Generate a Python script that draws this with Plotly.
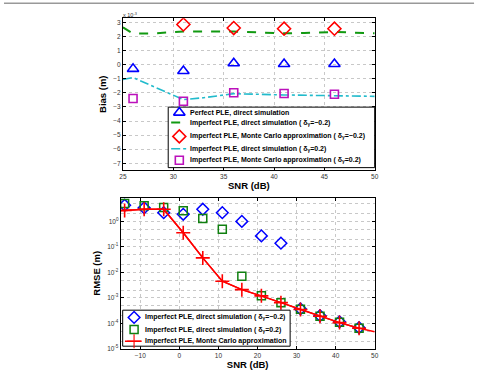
import plotly.graph_objects as go

# ---------------- Top panel data (Bias, units of 1e-3 m) ----------------
snr_top_pts = [26, 31, 36, 41, 46]
bias_perfect = [-0.3, -0.45, 0.1, 0.05, 0.05]
snr_top_mc = [31, 36, 41, 46]
bias_mc_neg = [2.85, 2.6, 2.55, 2.55]
bias_mc_pos = [-2.4, -2.6, -2.0, -2.05, -2.1]

snr_line_neg = [25, 26, 28, 31, 36, 41, 43, 46, 50]
bias_line_neg = [2.65, 2.2, 2.22, 2.35, 2.35, 2.22, 2.25, 2.32, 2.22]
snr_line_pos = [25, 26, 28.7, 31, 33, 36, 41, 46, 50]
bias_line_pos = [-1.05, -0.92, -1.76, -2.48, -2.35, -2.06, -2.15, -2.2, -2.25]

top_xticks = [25, 30, 35, 40, 45, 50]
top_yticks = [-7, -6, -5, -4, -3, -2, -1, 0, 1, 2, 3]

# ---------------- Bottom panel data (RMSE, m) ----------------
snr_bot = [-14, -9, -4, 1, 6, 11, 16, 21, 26, 31, 36, 41, 46]
rmse_neg = [4.3, 3.4, 2.2, 1.9, 3.0, 2.2, 1.0, 0.27, 0.14, 3.7e-4, 2.0e-4, 1.15e-4, 6.8e-5]
rmse_pos = [5.0, 4.1, 3.5, 2.6, 1.3, 0.49, 0.007, 1.2e-3, 6.4e-4, 3.6e-4, 1.9e-4, 1.1e-4, 6.5e-5]
rmse_mc = [2.7, 3.0, 3.0, 0.36, 0.037, 0.0045, 0.0021, 0.0012, 6.5e-4, 3.5e-4, 1.9e-4, 1.07e-4, 6.4e-5]
snr_mc_line = [-15, -14, -9, -4, 1, 6, 11, 16, 21, 26, 31, 36, 41, 46, 50]
rmse_mc_line = [2.6, 2.7, 3.0, 3.0, 0.36, 0.037, 0.0045, 0.0021, 0.0012, 6.5e-4, 3.5e-4, 1.9e-4, 1.07e-4, 6.4e-5, 4.7e-5]

bot_xticks = [-10, 0, 10, 20, 30, 40, 50]
bot_ydec = [-5, -4, -3, -2, -1, 0]

# legend labels
top_labels = [
    "Perfect PLE, direct simulation",
    "Imperfect PLE, direct simulation ( δ<sub>γ</sub>=−0.2)",
    "Imperfect PLE, Monte Carlo approximation ( δ<sub>γ</sub>=−0.2)",
    "Imperfect PLE, direct simulation ( δ<sub>γ</sub>=0.2)",
    "Imperfect PLE, Monte Carlo approximation ( δ<sub>γ</sub>=0.2)",
]
bot_labels = [
    "Imperfect PLE, direct simulation ( δ<sub>γ</sub>=−0.2)",
    "Imperfect PLE, direct simulation ( δ<sub>γ</sub>=0.2)",
    "Imperfect PLE, Monte Carlo approximation",
]

W, H = 479, 372
FONT = "Liberation Sans, Arial, sans-serif"
BLUE, GREEN_L, RED, CYAN, MAG, GREEN_M = "#0000ff", "#119911", "#ff0000", "#22bbcc", "#bb11bb", "#108010"

# styles per series
sty_tri = dict(mode="markers", marker=dict(symbol="triangle-up-open", size=10, color=BLUE, line=dict(width=1.6)))
sty_gdash = dict(mode="lines", line=dict(color=GREEN_L, width=2, dash="dash"))
sty_rdia = dict(mode="markers", marker=dict(symbol="diamond-open", size=10, color=RED, line=dict(width=1.6)))
sty_cdd = dict(mode="lines", line=dict(color=CYAN, width=1.6, dash="dashdot"))
sty_msq = dict(mode="markers", marker=dict(symbol="square-open", size=8, color=MAG, line=dict(width=1.6)))
sty_bdia = dict(mode="markers", marker=dict(symbol="diamond-open", size=9, color=BLUE, line=dict(width=1.5)))
sty_gsq = dict(mode="markers", marker=dict(symbol="square-open", size=8, color=GREEN_M, line=dict(width=1.5)))
sty_rcross = dict(mode="lines+markers", line=dict(color=RED, width=1.5),
                  marker=dict(symbol="cross-thin-open", size=10, color=RED, line=dict(width=1.6, color=RED)))

fig = go.Figure()

# top traces
fig.add_trace(go.Scatter(x=snr_top_pts, y=bias_perfect, name=top_labels[0], xaxis="x", yaxis="y", **sty_tri))
fig.add_trace(go.Scatter(x=snr_line_neg, y=bias_line_neg, name=top_labels[1], xaxis="x", yaxis="y", **sty_gdash))
fig.add_trace(go.Scatter(x=snr_top_mc, y=bias_mc_neg, name=top_labels[2], xaxis="x", yaxis="y", **sty_rdia))
fig.add_trace(go.Scatter(x=snr_line_pos, y=bias_line_pos, name=top_labels[3], xaxis="x", yaxis="y", **sty_cdd))
fig.add_trace(go.Scatter(x=snr_top_pts, y=bias_mc_pos, name=top_labels[4], xaxis="x", yaxis="y", **sty_msq))

# bottom traces
fig.add_trace(go.Scatter(x=snr_bot, y=rmse_neg, name=bot_labels[0], xaxis="x2", yaxis="y2", **sty_bdia))
fig.add_trace(go.Scatter(x=snr_bot, y=rmse_pos, name=bot_labels[1], xaxis="x2", yaxis="y2", **sty_gsq))
fig.add_trace(go.Scatter(x=snr_mc_line, y=rmse_mc_line, mode="lines", line=dict(color=RED, width=1.5),
                         xaxis="x2", yaxis="y2", name=bot_labels[2]))
fig.add_trace(go.Scatter(x=snr_bot, y=rmse_mc, name=bot_labels[2], xaxis="x2", yaxis="y2", **sty_rcross))

# ---------------- hand-built compact legends (pixel overlay axes x3/y3) ----------------
annotations = []


def add_legend(box, rows, styles, labels, mark_x, line_x, text_x, text_dy):
    x0, y0, x1, y1 = box
    fig.add_trace(go.Scatter(x=[x0, x1, x1, x0, x0], y=[y0, y0, y1, y1, y0], mode="lines", fill="toself",
                             fillcolor="white", line=dict(color="black", width=1), xaxis="x3", yaxis="y3",
                             hoverinfo="skip", showlegend=False))
    for ry, st, lab in zip(rows, styles, labels):
        st = dict(st)
        if st["mode"] == "lines":
            xs, ys = [line_x[0], line_x[1]], [ry, ry]
        elif st["mode"] == "markers":
            xs, ys = [mark_x], [ry]
        else:
            xs, ys = [line_x[0], mark_x, line_x[1]], [ry, ry, ry]
            st["marker"] = dict(st["marker"], size=[0, st["marker"]["size"], 0])
        fig.add_trace(go.Scatter(x=xs, y=ys, xaxis="x3", yaxis="y3", hoverinfo="skip", showlegend=False, **st))
        annotations.append(dict(text=lab, x=text_x / W, y=1 - (ry + text_dy) / H, xref="paper", yref="paper",
                                xanchor="left", yanchor="middle", showarrow=False,
                                font=dict(family=FONT, size=7, color="black", weight="bold")))


add_legend((167, 108, 377, 169), [113.5, 123.5, 137.5, 150, 161.5],
           [sty_tri, sty_gdash, sty_rdia, sty_cdd, sty_msq], top_labels,
           mark_x=178.3, line_x=(170, 187), text_x=187.5, text_dy=0)
add_legend((120.7, 312.7, 291, 349), [320, 332.3, 344],
           [sty_bdia, sty_gsq, sty_rcross], bot_labels,
           mark_x=132.3, line_x=(123, 140), text_x=141, text_dy=0)

tickfont = dict(family=FONT, size=6.5, color="#333")
titlefont = dict(family=FONT, size=9.5, color="black", weight="bold")
gridc = "#c8c8c8"

common = dict(showline=True, linecolor="black", linewidth=1, mirror="allticks", ticks="inside", ticklen=3,
              tickcolor="black", showgrid=True, gridcolor=gridc, griddash="dot", gridwidth=1,
              zeroline=False, tickfont=tickfont)

annotations.append(dict(text="x 10<sup>-3</sup>", xref="paper", yref="paper", x=119 / W, y=1 - 15 / H,
                        xanchor="left", yanchor="middle", showarrow=False,
                        font=dict(family=FONT, size=5.5, color="#333")))

fig.update_layout(
    width=W, height=H, margin=dict(l=0, r=0, t=0, b=0),
    paper_bgcolor="white", plot_bgcolor="rgba(0,0,0,0)", showlegend=False,
    xaxis=dict(domain=[121 / W, 377 / W], range=[25, 50], tickvals=top_xticks, anchor="y",
               title=dict(text="SNR (dB)", font=titlefont, standoff=3), **common),
    yaxis=dict(domain=[1 - 171.7 / H, 1 - 18.3 / H], range=[-7.5, 3.3], tickvals=top_yticks, anchor="x",
               title=dict(text="Bias (m)", font=titlefont, standoff=4), **common),
    xaxis2=dict(domain=[118.7 / W, 377 / W], range=[-15, 50], tickvals=bot_xticks, anchor="y2",
                title=dict(text="SNR (dB)", font=titlefont, standoff=2), **common),
    yaxis2=dict(domain=[1 - 351.7 / H, 1 - 199.3 / H], type="log", range=[-5, 0.93], anchor="x2",
                tickvals=[10 ** d for d in bot_ydec], ticktext=[f"10<sup>{d}</sup>" for d in bot_ydec],
                minor=dict(showgrid=True, gridcolor=gridc, griddash="dot", ticks=""),
                title=dict(text="RMSE (m)", font=titlefont, standoff=4), **common),
    xaxis3=dict(domain=[0, 1], range=[0, W], visible=False, anchor="y3", fixedrange=True),
    yaxis3=dict(domain=[0, 1], range=[H, 0], visible=False, anchor="x3", fixedrange=True),
    shapes=[dict(type="line", xref="paper", yref="paper", x0=0, x1=0.998, y0=1 - 3.3 / H, y1=1 - 3.3 / H,
                 line=dict(color="#999", width=1.5))],
    annotations=annotations,
)

fig.write_html("out.html")
